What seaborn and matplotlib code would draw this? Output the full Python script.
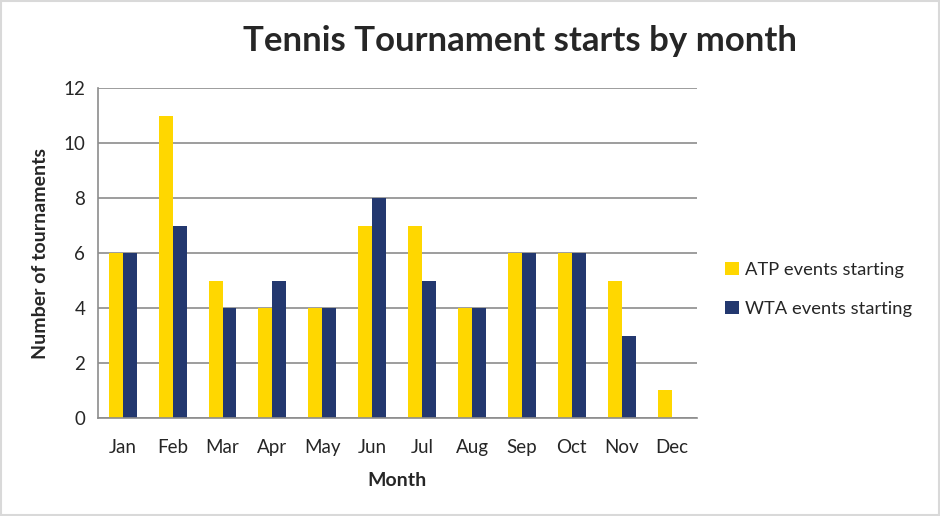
import matplotlib
matplotlib.use("Agg")
import matplotlib.pyplot as plt
import pandas as pd
import seaborn as sns

months = ["Jan", "Feb", "Mar", "Apr", "May", "Jun", "Jul", "Aug", "Sep", "Oct", "Nov", "Dec"]
atp = [6, 11, 5, 4, 4, 7, 7, 4, 6, 6, 5, 1]
wta = [6, 7, 4, 5, 4, 8, 5, 4, 6, 6, 3, 0]
series = ["ATP events starting", "WTA events starting"]

df = pd.DataFrame({
    "Month": months * 2,
    "Count": atp + wta,
    "Series": [series[0]] * len(months) + [series[1]] * len(months),
})

sns.set_style("white")
plt.rcParams["font.family"] = ["Lato", "DejaVu Sans"]

fig = plt.figure(figsize=(9.4, 5.16), dpi=100)
ax = fig.add_axes([0.104, 0.19, 0.637, 0.639])

sns.barplot(data=df, x="Month", y="Count", hue="Series", order=months,
            palette=["#FFD700", "#23386F"], width=0.56, gap=0,
            saturation=1, linewidth=0, ax=ax, legend=True)

ax.set_ylim(0, 12)
ax.set_yticks(range(0, 13, 2))
ax.set_xlim(-0.5, 11.5)
ax.yaxis.grid(True, color="#8C8C8C", linewidth=1.2)
ax.set_axisbelow(True)
for s in ["top", "right"]:
    ax.spines[s].set_visible(False)
ax.spines["left"].set_color("#8C8C8C")
ax.spines["bottom"].set_color("#8C8C8C")
ax.spines["left"].set_linewidth(1.2)
ax.spines["bottom"].set_linewidth(1.2)
ax.tick_params(axis="y", length=0, labelsize=13.5, pad=9)
ax.tick_params(axis="x", length=0, labelsize=13.5, pad=15)

ax.set_xlabel("Month", fontsize=14, fontweight="bold", labelpad=12)
ax.set_ylabel("Number of tournaments", fontsize=14, fontweight="bold", labelpad=10)

fig.suptitle("Tennis Tournament starts by month", x=0.553, y=0.952,
             fontsize=25, fontweight="bold")

ax.legend(loc="center left", bbox_to_anchor=(1.02, 0.39), frameon=False,
          fontsize=13.2, handlelength=0.75, handleheight=0.75, labelspacing=1.25,
          handletextpad=0.35)

border = plt.Rectangle((0.001, 0.001), 0.998, 0.997, transform=fig.transFigure,
                       fill=False, edgecolor="#D9D9D9", linewidth=1.5)
fig.patches.append(border)

fig.savefig("out.png", dpi=100)
